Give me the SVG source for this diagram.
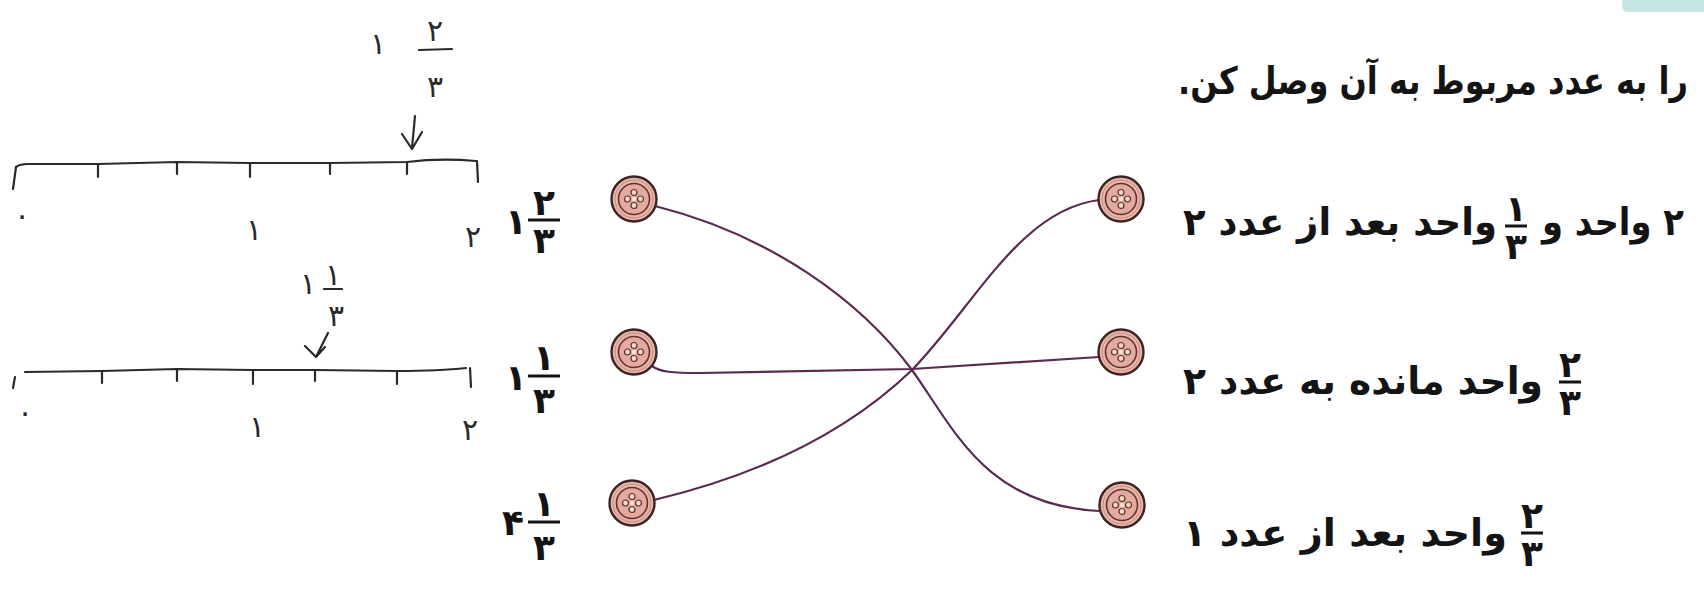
<svg xmlns="http://www.w3.org/2000/svg" xmlns:xlink="http://www.w3.org/1999/xlink" width="1704" height="589" viewBox="0 0 1704 589">
<style>
.t{font-family:'DejaVu Sans',sans-serif;font-weight:bold;font-size:38px;fill:#141414;text-anchor:middle}
.f{font-family:'DejaVu Sans',sans-serif;font-weight:bold;font-size:36px;fill:#141414;text-anchor:middle}
.h{font-family:'DejaVu Sans',sans-serif;font-size:30px;fill:#2a2a2a;text-anchor:middle}
.bar{stroke:#141414;stroke-width:3}
.hs{stroke:#2a2a2a;stroke-width:2.2;fill:none;stroke-linecap:round;stroke-linejoin:round}
.conn{stroke:#5a2a50;stroke-width:2.2;fill:none}
</style>
<defs>
<g id="btn">
<circle r="22.5" fill="#e9b5a8" stroke="#3d2424" stroke-width="2.4"/>
<circle r="19" fill="none" stroke="#c48b82" stroke-width="1"/>
<circle r="15.5" fill="#e4aa9e" stroke="#5e3232" stroke-width="1.6"/>
<circle cx="0" cy="-6.5" r="3" fill="#f2d8c8" stroke="#5a3030" stroke-width="1.2"/>
<circle cx="0" cy="6.5" r="3" fill="#f2d8c8" stroke="#5a3030" stroke-width="1.2"/>
<circle cx="-6.5" cy="0" r="3" fill="#f2d8c8" stroke="#5a3030" stroke-width="1.2"/>
<circle cx="6.5" cy="0" r="3" fill="#f2d8c8" stroke="#5a3030" stroke-width="1.2"/>
<circle r="2.2" fill="#f6e4d6"/>
</g>
</defs>
<rect width="1704" height="589" fill="#ffffff"/>
<rect x="1622" y="-10" width="92" height="22" rx="6" fill="#c5e6e3"/>

<g id="numberline-top">
<path class="hs" d="M16,167 Q20,164 28,164 L98,164 L177,162 L250,163 L330,163 L407,162 Q440,158 476,161"/>
<path class="hs" d="M16,167 L13,189 M98,164 L98,177 M177,162 L177,174 M250,164 L250,177 M330,163 L330,174 M407,162 L407,174 M477,161 L478,182"/>
<text class="h" x="22" y="226" font-size="22">۰</text>
<text class="h" x="254" y="240" font-size="34">۱</text>
<text class="h" x="473" y="247" font-size="30">۲</text>
<text class="h" x="378" y="54" font-size="30">۱</text>
<text class="h" x="435" y="41" font-size="32">۲</text>
<path class="hs" d="M419,50 L452,49"/>
<text class="h" x="435" y="97" font-size="32">۳</text>
<path class="hs" d="M415,116 L412,148 M402,134 L412,149 L422,132"/>
</g>

<g id="numberline-bottom">
<path class="hs" d="M25,372 L102,371 L177,369 L253,370 L315,370 L397,371 Q440,371 466,368"/>
<path class="hs" d="M15,377 L13,388 M102,371 L102,383 M177,369 L177,381 M253,370 L253,384 M315,370 L315,381 M397,371 L397,384 M470,368 L471,387"/>
<text class="h" x="25" y="423" font-size="22">۰</text>
<text class="h" x="257" y="437" font-size="32">۱</text>
<text class="h" x="470" y="440" font-size="32">۲</text>
<text class="h" x="308" y="294" font-size="22">۱</text>
<text class="h" x="333" y="285" font-size="20">۱</text>
<path class="hs" d="M324,289 L342,289"/>
<text class="h" x="336" y="326" font-size="28">۳</text>
<path class="hs" d="M328,333 L316,357 M305,346 L316,357 L325,347"/>
</g>

<g id="connectors">
<path class="conn" d="M655,206 C770,235 860,300 912,370 C955,430 985,505 1099,511"/>
<path class="conn" d="M652,366 C660,372 672,373 700,373 L912,369 L1099,357"/>
<path class="conn" d="M654,500 C780,470 860,420 912,370 C975,305 1020,210 1099,200"/>
</g>

<g id="L1">
<use xlink:href="#btn" x="634" y="199"/>
<text class="f" x="516" y="234">۱</text>
<text class="f" x="544" y="215">۲</text>
<line class="bar" x1="528" y1="220" x2="560" y2="220"/>
<text class="f" x="544" y="253">۳</text>
</g>
<g id="L2">
<use xlink:href="#btn" x="634" y="352"/>
<text class="f" x="516" y="390">۱</text>
<text class="f" x="544" y="370">۱</text>
<line class="bar" x1="528" y1="376" x2="560" y2="376"/>
<text class="f" x="544" y="413">۳</text>
</g>
<g id="L3">
<use xlink:href="#btn" x="632" y="503"/>
<text class="f" x="513" y="535">۴</text>
<text class="f" x="544" y="516">۱</text>
<line class="bar" x1="528" y1="522" x2="560" y2="522"/>
<text class="f" x="544" y="560">۳</text>
</g>

<g id="header">
<text class="t" direction="rtl" x="1433" y="94" textLength="510" lengthAdjust="spacingAndGlyphs">را به عدد مربوط به آن وصل کن.</text>
</g>

<g id="R1">
<use xlink:href="#btn" x="1121" y="199"/>
<text class="t" direction="rtl" x="1340" y="235" textLength="314" lengthAdjust="spacingAndGlyphs">واحد بعد از عدد ۲</text>
<text class="f" x="1516" y="221" font-size="34">۱</text>
<line class="bar" x1="1505" y1="226" x2="1527" y2="226"/>
<text class="f" x="1516" y="259" font-size="34">۳</text>
<text class="t" direction="rtl" x="1613" y="235" textLength="142" lengthAdjust="spacingAndGlyphs">۲ واحد و</text>
</g>
<g id="R2">
<use xlink:href="#btn" x="1121" y="352"/>
<text class="t" direction="rtl" x="1363" y="394" textLength="360" lengthAdjust="spacingAndGlyphs">واحد مانده به عدد ۲</text>
<text class="f" x="1570" y="377" font-size="34">۲</text>
<line class="bar" x1="1559" y1="382" x2="1581" y2="382"/>
<text class="f" x="1570" y="415" font-size="34">۳</text>
</g>
<g id="R3">
<use xlink:href="#btn" x="1122" y="505"/>
<text class="t" direction="rtl" x="1345" y="546" textLength="324" lengthAdjust="spacingAndGlyphs">واحد بعد از عدد ۱</text>
<text class="f" x="1532" y="528" font-size="34">۲</text>
<line class="bar" x1="1521" y1="533" x2="1543" y2="533"/>
<text class="f" x="1532" y="566" font-size="34">۳</text>
</g>
</svg>
